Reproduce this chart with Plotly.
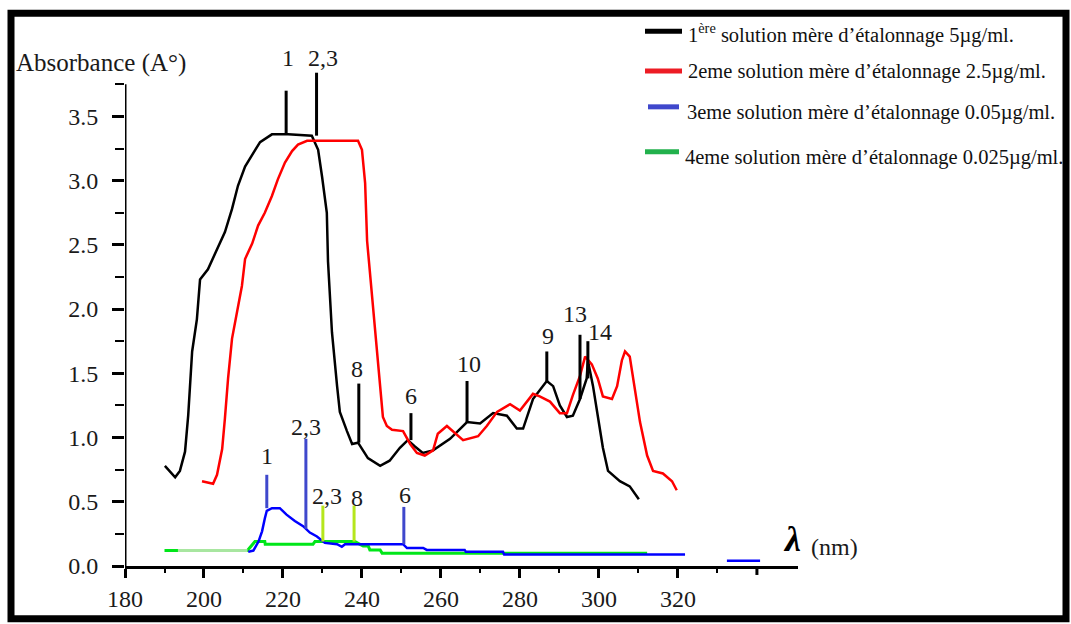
import plotly.graph_objects as go

# ---------------- data ----------------
black_x = [190.1, 192.7, 193.9, 195.2, 196.0, 197.0, 198.2, 199.0, 201.0, 203.3,
           205.3, 207.1, 208.6, 210.4, 212.2, 214.2, 217.2, 221.3, 227.3, 228.9,
           229.9, 231.1, 231.4, 232.4, 233.7, 234.4, 236.2, 237.5, 239.0, 241.5,
           244.6, 247.0, 249.6, 251.6, 253.4, 255.4, 258.0, 262.3, 266.6, 269.9,
           273.2, 276.7, 279.2, 280.8, 283.3, 286.8, 288.4, 290.1, 291.9, 293.4,
           295.2, 296.9, 297.2, 298.5, 299.7, 301.0, 302.3, 305.3, 307.8, 310.1]
black_y = [0.78, 0.69, 0.74, 0.89, 1.17, 1.67, 1.92, 2.23, 2.31, 2.47,
           2.60, 2.78, 2.96, 3.11, 3.20, 3.30, 3.36, 3.36, 3.35, 3.24,
           3.03, 2.75, 2.37, 1.82, 1.40, 1.20, 1.05, 0.95, 0.96, 0.84,
           0.78, 0.82, 0.92, 0.98, 0.93, 0.88, 0.90, 0.99, 1.12, 1.11,
           1.19, 1.17, 1.07, 1.07, 1.30, 1.44, 1.40, 1.25, 1.16, 1.17,
           1.30, 1.46, 1.60, 1.40, 1.17, 0.92, 0.74, 0.66, 0.62, 0.52]

red_x = [199.5, 202.3, 203.3, 204.6, 205.3, 206.1, 207.1, 208.4, 209.6, 210.4,
         212.2, 213.7, 215.4, 217.2, 218.7, 220.5, 222.3, 223.8, 226.1, 228.9,
         239.0, 240.0, 240.8, 241.3, 242.5, 243.3, 244.0, 245.3, 246.3, 247.6,
         250.4, 252.2, 253.9, 255.9, 258.0, 259.2, 261.5, 263.0, 265.6, 269.4,
         271.6, 274.2, 277.5, 280.0, 283.3, 285.0, 287.6, 290.1, 291.9, 293.4,
         295.2, 296.5, 298.2, 299.7, 301.0, 303.3, 304.6, 305.8, 306.6, 307.8,
         309.1, 310.4, 312.2, 313.7, 316.2, 318.5, 319.7]
red_y = [0.66, 0.64, 0.71, 0.91, 1.15, 1.46, 1.77, 1.98, 2.18, 2.39,
         2.51, 2.65, 2.75, 2.88, 3.01, 3.14, 3.23, 3.28, 3.31, 3.31,
         3.31, 3.24, 2.98, 2.53, 2.12, 1.85, 1.56, 1.16, 1.09, 1.06,
         1.05, 0.95, 0.88, 0.86, 0.90, 1.03, 1.09, 1.05, 0.98, 1.01,
         1.09, 1.20, 1.26, 1.21, 1.34, 1.32, 1.28, 1.19, 1.19, 1.33,
         1.48, 1.63, 1.57, 1.46, 1.32, 1.30, 1.40, 1.60, 1.67, 1.63,
         1.36, 1.12, 0.86, 0.74, 0.72, 0.66, 0.59]

blue_x = [211.2, 212.5, 213.8, 214.7, 215.4, 215.9, 217.2, 219.2, 220.9, 223.0,
          225.1, 226.8, 228.6, 230.6, 233.7, 234.9, 235.7, 250.4, 251.4, 255.5,
          256.4, 266.0, 266.3, 275.7, 276.0, 321.8, None, 332.4, 340.8]
blue_y = [0.11, 0.12, 0.19, 0.27, 0.37, 0.43, 0.45, 0.45, 0.40, 0.35,
          0.31, 0.26, 0.23, 0.18, 0.17, 0.15, 0.17, 0.17, 0.14, 0.14,
          0.125, 0.125, 0.11, 0.11, 0.09, 0.09, None, 0.04, 0.04]

green_x = [190.0, 193.4, 211.0, 212.9, 215.4, 215.5, 227.6, 228.1, 238.2, 240.3,
           241.6, 242.0, 244.6, 245.1, 275.0, 312.2]
green_y = [0.12, 0.12, 0.12, 0.19, 0.19, 0.17, 0.17, 0.19, 0.19, 0.155,
           0.155, 0.125, 0.125, 0.10, 0.10, 0.10]

# peak markers (stems)
black_peak_x = [220.8, 228.5, 239.2, 252.4, 266.6, 286.8, 295.2, 297.2]
black_peak_top = [3.70, 3.84, 1.42, 1.19, 1.44, 1.67, 1.80, 1.75]
black_peak_base = [3.36, 3.35, 0.96, 0.98, 1.12, 1.44, 1.30, 1.46]
black_peak_lbl = ["1", "2,3", "8", "6", "10", "9", "13", "14"]

blue_peak_x = [215.9, 225.8, 250.6]
blue_peak_top = [0.71, 0.99, 0.46]
blue_peak_base = [0.45, 0.29, 0.17]
blue_peak_lbl = ["1", "2,3", "6"]

green_peak_x = [230.1, 238.0]
green_peak_top = [0.47, 0.47]
green_peak_base = [0.19, 0.19]
green_peak_lbl = ["2,3", "8"]

x_major = [180, 200, 220, 240, 260, 280, 300, 320]
x_major_txt = ["180", "200", "220", "240", "260", "280", "300", "320"]
x_extra_tick = [340]
x_minor = [190, 210, 230, 250, 270, 290, 310, 330]
y_major = [0.0, 0.5, 1.0, 1.5, 2.0, 2.5, 3.0, 3.5]
y_major_txt = ["0.0", "0.5", "1.0", "1.5", "2.0", "2.5", "3.0", "3.5"]
y_minor = [0.25, 0.75, 1.25, 1.75, 2.25, 2.75, 3.25, 3.75]

legend_labels = [
    "1<sup>ère</sup> solution mère d’étalonnage 5µg/ml.",
    "2eme solution mère d’étalonnage 2.5µg/ml.",
    "3eme solution mère d’étalonnage 0.05µg/ml.",
    "4eme solution mère d’étalonnage 0.025µg/ml.",
]

# ---------------- layout geometry ----------------
W, H = 1071, 624
L, R, T, B = 125, 273, 65, 56
PW, PH = W - L - R, H - T - B
FONT = "Liberation Serif"
TXT = "#1a1a1a"


def px(x):
    return (x - L) / PW


def py(y):
    return (H - B - y) / PH


def stems(xs, tops, bases):
    sx, sy = [], []
    for x, t, b in zip(xs, tops, bases):
        sx += [x, x, None]
        sy += [b, t, None]
    return sx, sy


fig = go.Figure()

fig.add_trace(go.Scatter(x=green_x, y=green_y, mode="lines",
                         line=dict(color="#00e619", width=3),
                         showlegend=False))
fig.add_trace(go.Scatter(x=green_x[1:3], y=green_y[1:3], mode="lines",
                         line=dict(color="#a8e6a0", width=3), showlegend=False))
fig.add_trace(go.Scatter(x=blue_x, y=blue_y, mode="lines", connectgaps=False,
                         line=dict(color="#0000ff", width=2.5), showlegend=False))
fig.add_trace(go.Scatter(x=black_x, y=black_y, mode="lines",
                         line=dict(color="black", width=2.5), showlegend=False))
fig.add_trace(go.Scatter(x=red_x, y=red_y, mode="lines",
                         line=dict(color="#ff0000", width=2.5), showlegend=False))

for xs, ts, bs, col in [(black_peak_x, black_peak_top, black_peak_base, "black"),
                        (blue_peak_x, blue_peak_top, blue_peak_base, "#3f48cc"),
                        (green_peak_x, green_peak_top, green_peak_base, "#b5e61d")]:
    sx, sy = stems(xs, ts, bs)
    fig.add_trace(go.Scatter(x=sx, y=sy, mode="lines", connectgaps=False,
                             line=dict(color=col, width=3), showlegend=False))

# peak labels: (pixel x-shift, pixel y-shift of label centre above stem top)
black_off = [(2, 33), (6, 15), (-2, 15), (0, 17), (2, 17), (1, 15), (-5, 21), (12, 9)]
blue_off = [(0, 19), (0, 12), (1, 12)]
green_off = [(4, 10), (3, 8)]
ann = []
for xs, ts, lb, offs in [(black_peak_x, black_peak_top, black_peak_lbl, black_off),
                         (blue_peak_x, blue_peak_top, blue_peak_lbl, blue_off),
                         (green_peak_x, green_peak_top, green_peak_lbl, green_off)]:
    for x, t, s, (dx, dy) in zip(xs, ts, lb, offs):
        ann.append(dict(x=x, y=t, xref="x", yref="y", text=s, showarrow=False,
                        xanchor="center", yanchor="middle", xshift=dx, yshift=dy,
                        font=dict(family=FONT, size=24, color=TXT)))

# axis titles
ann.append(dict(x=px(14), y=py(63), xref="paper", yref="paper",
                text="Absorbance (A°)", showarrow=False, xanchor="left",
                yanchor="middle", font=dict(family=FONT, size=25, color=TXT)))
ann.append(dict(x=px(803), y=py(541), xref="paper", yref="paper",
                text="<b><i>λ</i></b>", showarrow=False, xanchor="right",
                yanchor="middle", font=dict(family=FONT, size=36, color="black")))
ann.append(dict(x=px(809), y=py(549), xref="paper", yref="paper",
                text="(nm)", showarrow=False, xanchor="left",
                yanchor="middle", font=dict(family=FONT, size=24, color=TXT)))

# custom legend
leg_cols = ["black", "#ed1c24", "#3f48cc", "#22b14c"]
leg_line_x = [(645, 682), (645, 682), (648, 679), (645, 679)]
leg_line_y = [31, 71, 107, 152]
leg_txt_x = [686, 686, 685, 683]
leg_txt_y = [33, 72, 113, 158]
shapes = []
for c, (a, b), ly, tx, ty, lab in zip(leg_cols, leg_line_x, leg_line_y,
                                      leg_txt_x, leg_txt_y, legend_labels):
    shapes.append(dict(type="line", xref="paper", yref="paper",
                       x0=px(a), x1=px(b), y0=py(ly), y1=py(ly),
                       line=dict(color=c, width=5)))
    ann.append(dict(x=px(tx), y=py(ty), xref="paper", yref="paper", text=lab,
                    showarrow=False, xanchor="left", yanchor="middle",
                    font=dict(family=FONT, size=20.5, color="#111")))

# y axis line (stops at the last minor tick)
shapes.append(dict(type="line", xref="x", yref="y", x0=180, x1=180, y0=0,
                   y1=y_minor[-1], line=dict(color="black", width=3)))
# unlabeled major x tick
for xv in x_extra_tick:
    shapes.append(dict(type="line", xref="x", yref="paper", x0=xv, x1=xv,
                       y0=0, y1=py(H - B + 9), line=dict(color="black", width=3)))
# outer frame
shapes.append(dict(type="rect", xref="paper", yref="paper",
                   x0=px(11), x1=px(1066), y0=py(621), y1=py(13),
                   line=dict(color="black", width=7)))

fig.update_layout(
    width=W, height=H, autosize=False,
    margin=dict(l=L, r=R, t=T, b=B, pad=0),
    paper_bgcolor="white", plot_bgcolor="white",
    showlegend=False,
    annotations=ann, shapes=shapes,
    xaxis=dict(range=[180, 350.4], showgrid=False, zeroline=False,
               showline=True, linecolor="black", linewidth=3,
               tickmode="array", tickvals=x_major, ticktext=x_major_txt,
               ticks="outside", ticklen=9, tickwidth=3, tickcolor="black",
               ticklabelstandoff=0,
               minor=dict(tickmode="array", tickvals=x_minor, ticks="outside",
                          ticklen=4, tickwidth=2, tickcolor="black", showgrid=False),
               tickfont=dict(family=FONT, size=24, color=TXT)),
    yaxis=dict(range=[0, 3.9], showgrid=False, zeroline=False, showline=False,
               tickmode="array", tickvals=y_major, ticktext=y_major_txt,
               ticks="outside", ticklen=12, tickwidth=3, tickcolor="black",
               ticklabelstandoff=9,
               minor=dict(tickmode="array", tickvals=y_minor, ticks="outside",
                          ticklen=9, tickwidth=2, tickcolor="black", showgrid=False),
               tickfont=dict(family=FONT, size=24, color=TXT)),
)

fig.write_html("out.html")
